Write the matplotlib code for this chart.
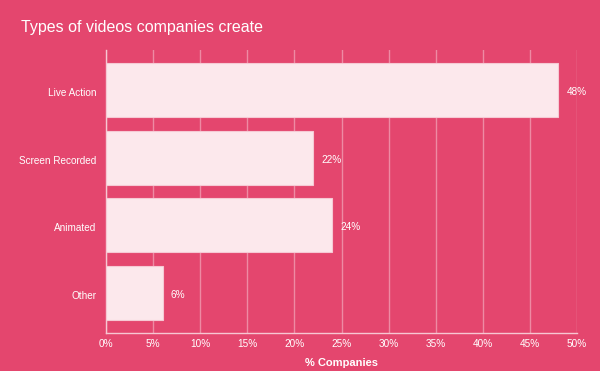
import matplotlib.pyplot as plt
import matplotlib.transforms as mtransforms

plt.rcParams['font.family'] = ['Liberation Sans', 'DejaVu Sans']

# данные
categories = ['Live Action', 'Screen Recorded', 'Animated', 'Other']
values = [48, 22, 24, 6]
xticks = [0, 5, 10, 15, 20, 25, 30, 35, 40, 45, 50]

bg = '#e4466e'
bar_color = '#fce8ec'
grid_color = '#ee8aa3'

fig = plt.figure(figsize=(6, 3.71), dpi=100, facecolor=bg)
ax = fig.add_axes([0.1767, 0.1024, 0.785, 0.7628], facecolor=bg)

y = range(len(categories))
ax.barh(y, values, height=0.8, color=bar_color, edgecolor='#f6c9d4', linewidth=0.8, zorder=3)

# подписи значений
for i, v in zip(y, values):
    ax.annotate(f'{v}%', (v, i), xytext=(6, -1.4), textcoords='offset points',
                va='center', ha='left', color='white', fontsize=7.2)

ax.set_xlim(0, 50)
ax.set_ylim(3.59, -0.59)
ax.set_yticks(list(y))
ax.set_yticklabels(categories)
ax.set_xticks(xticks)
ax.set_xticklabels([f'{t}%' for t in xticks])
ax.tick_params(length=0, colors='white', labelsize=7.2)
ax.tick_params(axis='y', pad=7)
ax.tick_params(axis='x', pad=4.5)

# чуть сдвигаем подписи категорий вниз
shift = mtransforms.ScaledTranslation(0, -2 / 100, fig.dpi_scale_trans)
for lbl in ax.get_yticklabels():
    lbl.set_transform(lbl.get_transform() + shift)

ax.grid(axis='x', color=grid_color, linewidth=1, zorder=0)
for s in ['top', 'right']:
    ax.spines[s].set_visible(False)
for s in ['left', 'bottom']:
    ax.spines[s].set_color('#f7c6d2')
    ax.spines[s].set_linewidth(1)

ax.set_xlabel('% Companies', color='white', fontsize=8, fontweight='bold', labelpad=6)

fig.text(0.035, 0.925, 'Types of videos companies create', color='white',
         fontsize=11.5, va='center', ha='left')

plt.savefig('out.png', dpi=100, facecolor=bg)
